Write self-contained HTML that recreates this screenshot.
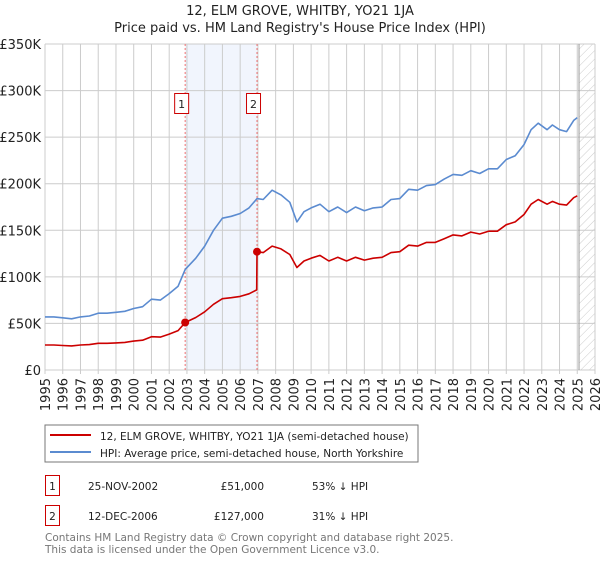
<!DOCTYPE html>
<html><head><meta charset="utf-8"><style>
body{margin:0;background:#fff;font-family:"Liberation Sans","DejaVu Sans",sans-serif;}
svg text{font-family:"DejaVu Sans","Liberation Sans",sans-serif;}
</style></head><body>
<svg id="chart" width="600" height="560" viewBox="0 0 600 560" xmlns="http://www.w3.org/2000/svg">
<defs><pattern id="hatch" width="6" height="6" patternUnits="userSpaceOnUse" patternTransform="rotate(45)"><line x1="0" y1="0" x2="0" y2="6" stroke="#ccc" stroke-width="1"/></pattern></defs>
<text x="300" y="15" text-anchor="middle" font-size="13" fill="#222">12, ELM GROVE, WHITBY, YO21 1JA</text>
<text x="300" y="32" text-anchor="middle" font-size="13" fill="#222">Price paid vs. HM Land Registry's House Price Index (HPI)</text>
<g id="grid"></g>
<g id="marks"></g>
<g id="axes"></g>
<rect x="45" y="425" width="373" height="37" fill="#fff" stroke="#777"/>
<line x1="50" y1="435" x2="91" y2="435" stroke="#cc0000" stroke-width="2"/>
<text x="100" y="440" font-size="10.5" fill="#222">12, ELM GROVE, WHITBY, YO21 1JA (semi-detached house)</text>
<line x1="50" y1="452" x2="91" y2="452" stroke="#5b8bd0" stroke-width="2"/>
<text x="100" y="457" font-size="10.5" fill="#222">HPI: Average price, semi-detached house, North Yorkshire</text>
<g>
<rect x="45.5" y="475.5" width="14" height="20" fill="#fff" stroke="#cc0000"/>
<text x="52.5" y="490" text-anchor="middle" font-size="10.5" fill="#222">1</text>
<text x="88" y="490" font-size="10.5" fill="#222">25-NOV-2002</text>
<text x="264" y="490" text-anchor="end" font-size="10.5" fill="#222">£51,000</text>
<text x="312" y="490" font-size="10.5" fill="#222">53% ↓ HPI</text></g>
<g>
<rect x="45.5" y="505.5" width="14" height="20" fill="#fff" stroke="#cc0000"/>
<text x="52.5" y="520" text-anchor="middle" font-size="10.5" fill="#222">2</text>
<text x="88" y="520" font-size="10.5" fill="#222">12-DEC-2006</text>
<text x="264" y="520" text-anchor="end" font-size="10.5" fill="#222">£127,000</text>
<text x="312" y="520" font-size="10.5" fill="#222">31% ↓ HPI</text></g>
<text x="45" y="541" font-size="10.5" fill="#777">Contains HM Land Registry data © Crown copyright and database right 2025.</text>
<text x="45" y="553" font-size="10.5" fill="#777">This data is licensed under the Open Government Licence v3.0.</text>
</svg>
<script>
const hpiYears=[1995,1995.5,1996,1996.5,1997,1997.5,1998,1998.5,1999,1999.5,2000,2000.5,2001,2001.5,2002,2002.5,2002.9,2003.5,2004,2004.5,2005,2005.5,2006,2006.5,2006.95,2007.3,2007.8,2008.3,2008.8,2009.2,2009.6,2010,2010.5,2011,2011.5,2012,2012.5,2013,2013.5,2014,2014.5,2015,2015.5,2016,2016.5,2017,2017.5,2018,2018.5,2019,2019.5,2020,2020.5,2021,2021.5,2022,2022.4,2022.8,2023.3,2023.6,2024,2024.4,2024.8,2025];
const hpiValues=[57,57,56,55,57,58,61,61,62,63,66,68,76,75,82,90,108,120,133,150,163,165,168,174,184,183,193,188,180,159,170,174,178,170,175,169,175,171,174,175,183,184,194,193,198,199,205,210,209,214,211,216,216,226,230,242,258,265,258,263,258,256,268,271];
const priceYears=[1995,1995.5,1996,1996.5,1997,1997.5,1998,1998.5,1999,1999.5,2000,2000.5,2001,2001.5,2002,2002.5,2002.9,2003.5,2004,2004.5,2005,2005.5,2006,2006.5,2006.93,2006.95,2007.3,2007.8,2008.3,2008.8,2009.2,2009.6,2010,2010.5,2011,2011.5,2012,2012.5,2013,2013.5,2014,2014.5,2015,2015.5,2016,2016.5,2017,2017.5,2018,2018.5,2019,2019.5,2020,2020.5,2021,2021.5,2022,2022.4,2022.8,2023.3,2023.6,2024,2024.4,2024.8,2025];
const priceValues=[26.8,26.8,26.3,25.9,26.8,27.3,28.7,28.7,29.1,29.6,31,32,35.7,35.3,38.5,42.3,51,56.4,62.5,70.5,76.6,77.6,79,81.8,86,127,126,133,130,124,110,117,120,123,117,121,117,121,118,120,121,126,127,134,133,137,137,141,145,144,148,146,149,149,156,159,167,178,183,178,181,178,177,185,187];
const saleYears=[2002.9,2006.95];
const saleValues=[51,127];
const saleLabels=["1","2"];
const yTicks=[0,50,100,150,200,250,300,350];
const yTickLabels=["£0","£50K","£100K","£150K","£200K","£250K","£300K","£350K"];
const xTicks=[1995,1996,1997,1998,1999,2000,2001,2002,2003,2004,2005,2006,2007,2008,2009,2010,2011,2012,2013,2014,2015,2016,2017,2018,2019,2020,2021,2022,2023,2024,2025,2026];
const forecastStart=2025.1;

const X0=45,X1=595,Y0=370,Y1=44;
const xs=y=>X0+(y-1995)/(2026-1995)*(X1-X0);
const ys=v=>Y0-v/350*(Y0-Y1);
const NS="http://www.w3.org/2000/svg";
function mk(tag,attrs,parent){const e=document.createElementNS(NS,tag);for(const k in attrs)e.setAttribute(k,attrs[k]);parent.appendChild(e);return e;}
const grid=document.getElementById('grid'),marks=document.getElementById('marks'),axes=document.getElementById('axes');

let r=mk('rect',{x:xs(saleYears[0]),y:Y1,width:xs(saleYears[1])-xs(saleYears[0]),height:Y0-Y1,fill:'#eef3fc',opacity:0.8},grid);


r=mk('rect',{x:xs(forecastStart),y:Y1,width:X1-xs(forecastStart),height:Y0-Y1,fill:'url(#hatch)'},grid);


yTicks.forEach((v,i)=>{
 const l=mk('line',{x1:X0,x2:X1,y1:ys(v),y2:ys(v),stroke:'#ccc','stroke-width':1},grid);
 
 
 const t=mk('text',{x:X0-4,y:ys(v)+5,'text-anchor':'end','font-size':13,fill:'#222'},axes);
 t.textContent=yTickLabels[i];
 
 
});
xTicks.forEach(y=>{
 const l=mk('line',{x1:xs(y),x2:xs(y),y1:Y1,y2:Y0+4,stroke:'#ccc','stroke-width':1},grid);
 
 
 const t=mk('text',{x:0,y:0,'text-anchor':'end','font-size':13,fill:'#222',transform:`translate(${xs(y)+5},378) rotate(-90)`},axes);
 t.textContent=String(y);
 
 
});
let fl=mk('line',{x1:xs(forecastStart),x2:xs(forecastStart),y1:Y1,y2:Y0,stroke:'#999','stroke-width':1},grid);


saleYears.forEach((y,i)=>{
 const l=mk('line',{x1:xs(y),x2:xs(y),y1:Y1,y2:Y0,stroke:'#f07070','stroke-width':1,'stroke-dasharray':'2,2'},marks);
 
 
});
function path(xa,va,color,name){
 const d=xa.map((y,i)=>(i?'L':'M')+xs(y).toFixed(1)+','+ys(va[i]).toFixed(1)).join('');
 const p=mk('path',{d:d,fill:'none',stroke:color,'stroke-width':1.6,'stroke-linejoin':'round'},marks);
 
 
}
path(hpiYears,hpiValues,'#5b8bd0','hpi-line');
path(priceYears,priceValues,'#cc0000','price-paid-line');
saleYears.forEach((y,i)=>{
 const c=mk('circle',{cx:xs(y),cy:ys(saleValues[i]),r:4,fill:'#cc0000'},marks);
 
 
 const b=mk('rect',{x:xs(y)-10.5,y:93.5,width:14,height:20,fill:'#fff',stroke:'#cc0000'},marks);
 
 
 const t=mk('text',{x:xs(y)-3.5,y:108,'text-anchor':'middle','font-size':11,fill:'#222'},marks);
 t.textContent=saleLabels[i];
 
 
});
</script>
</body></html>
